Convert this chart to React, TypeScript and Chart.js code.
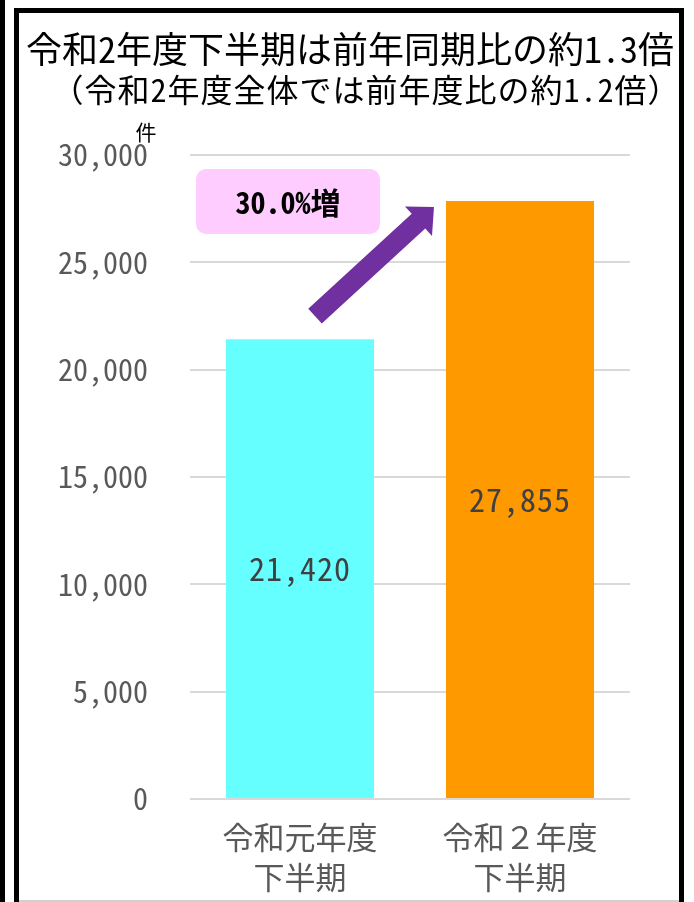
import React, { useEffect, useRef } from "react";
import { Chart, registerables } from "chart.js";

Chart.register(...registerables);

// ---- data ----
const categories: string[][] = [
  ["令和元年度", "下半期"],
  ["令和２年度", "下半期"],
];
const counts: number[] = [21420, 27855];
const barColors: string[] = ["#66FFFF", "#FF9900"];
const yTickValues: number[] = [0, 5000, 10000, 15000, 20000, 25000, 30000];
const titleText = "令和2年度下半期は前年同期比の約1.3倍";
const subtitleText = "（令和2年度全体では前年度比の約1.2倍）";
const unitLabel = "件";
const increaseLabel = "30.0%増";

const FONT = "'Noto Sans Mono CJK JP', 'Noto Sans CJK JP', sans-serif";

const fmt = (v: number) => Number(v).toLocaleString("en-US");

const decorPlugin = {
  id: "decor",
  beforeDraw(chart: any) {
    const { ctx, width, height } = chart;
    ctx.save();
    ctx.fillStyle = "#ffffff";
    ctx.fillRect(0, 0, width, height);
    ctx.fillStyle = "#000000";
    // outer left line
    ctx.fillRect(0, 0, 5, height);
    // inner frame
    ctx.fillRect(14, 8, 5, height - 8);
    ctx.fillRect(14, 8, 670, 5);
    ctx.fillRect(679, 8, 5, height - 8);
    ctx.fillStyle = "#d0d0d0";
    ctx.fillRect(19, height - 2, 660, 2);

    // titles
    const cx = 350;
    ctx.fillStyle = "#000000";
    ctx.textAlign = "center";
    ctx.textBaseline = "middle";
    ctx.font = `36px ${FONT}`;
    (ctx as any).letterSpacing = "0px";
    ctx.fillText(titleText, cx, 49);
    ctx.font = `32px ${FONT}`;
    (ctx as any).letterSpacing = "1px";
    ctx.fillText(subtitleText, cx + 16, 90);
    (ctx as any).letterSpacing = "0px";
    ctx.restore();
  },
  afterDatasetsDraw(chart: any) {
    const { ctx, chartArea } = chart;
    const meta = chart.getDatasetMeta(0);
    const bars = meta.data.map((b: any) =>
      b.getProps(["x", "y", "base", "width"], true)
    );
    ctx.save();
    // value labels
    ctx.font = `32px ${FONT}`;
    (ctx as any).letterSpacing = "1px";
    ctx.fillStyle = "#404040";
    ctx.textAlign = "center";
    ctx.textBaseline = "middle";
    bars.forEach((b: any, i: number) => {
      ctx.fillText(fmt(counts[i]), b.x, (b.y + b.base) / 2);
    });
    (ctx as any).letterSpacing = "0px";

    // unit label
    ctx.font = `21px ${FONT}`;
    ctx.fillStyle = "#000000";
    ctx.fillText(unitLabel, chartArea.left - 44, chartArea.top - 23);

    // increase box
    const b0 = bars[0];
    const b1 = bars[1];
    const bw = 184;
    const bh = 65;
    const cx = b0.x - 12;
    const cy = b1.y + 0.5;
    ctx.fillStyle = "#FFCCFF";
    ctx.beginPath();
    (ctx as any).roundRect(cx - bw / 2, cy - bh / 2, bw, bh, 10);
    ctx.fill();
    ctx.fillStyle = "#000000";
    ctx.font = `bold 30px ${FONT}`;
    ctx.fillText(increaseLabel, cx, cy + 1);

    // arrow
    const tail = { x: b0.x + 15, y: b0.y - 23 };
    const tip = { x: b1.x - b1.width / 2 - 12, y: b1.y + 6 };
    const dx = tip.x - tail.x;
    const dy = tip.y - tail.y;
    const len = Math.hypot(dx, dy);
    const ux = dx / len;
    const uy = dy / len;
    const nx = -uy;
    const ny = ux;
    const headLen = 21;
    const shaftHalf = 10;
    const headHalf = 20;
    const bx = tip.x - ux * headLen;
    const by = tip.y - uy * headLen;
    ctx.fillStyle = "#7030A0";
    ctx.beginPath();
    ctx.moveTo(tail.x + nx * shaftHalf, tail.y + ny * shaftHalf);
    ctx.lineTo(bx + nx * shaftHalf, by + ny * shaftHalf);
    ctx.lineTo(bx + nx * headHalf, by + ny * headHalf);
    ctx.lineTo(tip.x, tip.y);
    ctx.lineTo(bx - nx * headHalf, by - ny * headHalf);
    ctx.lineTo(bx - nx * shaftHalf, by - ny * shaftHalf);
    ctx.lineTo(tail.x - nx * shaftHalf, tail.y - ny * shaftHalf);
    ctx.closePath();
    ctx.fill();
    ctx.restore();
  },
};

export default function App() {
  const ref = useRef<HTMLCanvasElement | null>(null);
  useEffect(() => {
    if (!ref.current) return;
    const chart = new Chart(ref.current, {
      type: "bar",
      data: {
        labels: categories,
        datasets: [
          {
            data: counts,
            backgroundColor: barColors,
            borderWidth: 0,
            barPercentage: 0.673,
            categoryPercentage: 1,
          },
        ],
      },
      options: {
        animation: false,
        responsive: false,
        devicePixelRatio: 1,
        layout: { padding: { left: 0, right: 64, top: 155, bottom: 0 } },
        plugins: {
          legend: { display: false },
          tooltip: { enabled: false },
          title: { display: false },
        },
        scales: {
          x: {
            grid: { display: false },
            border: { display: false },
            ticks: {
              color: "#595959",
              font: { family: FONT, size: 31, lineHeight: 1.3 },
              padding: 10,
              maxRotation: 0,
              autoSkip: false,
            },
            afterFit: (s: any) => {
              s.height = 103;
            },
          },
          y: {
            min: yTickValues[0],
            max: yTickValues[yTickValues.length - 1],
            afterBuildTicks: (s: any) => {
              s.ticks = yTickValues.map((v) => ({ value: v }));
            },
            ticks: {
              color: "#595959",
              font: { family: FONT, size: 30 },
              padding: 42,
              callback: (v: any) => fmt(v),
            },
            grid: { color: "#d9d9d9", lineWidth: 2, drawTicks: false },
            border: { display: false },
            afterFit: (s: any) => {
              s.width = 190;
            },
          },
        },
      },
      plugins: [decorPlugin],
    } as any);
    return () => chart.destroy();
  }, []);
  return (
    <canvas
      ref={ref}
      width={694}
      height={902}
      style={{ position: "absolute", left: 0, top: 0, width: 694, height: 902 }}
    />
  );
}
